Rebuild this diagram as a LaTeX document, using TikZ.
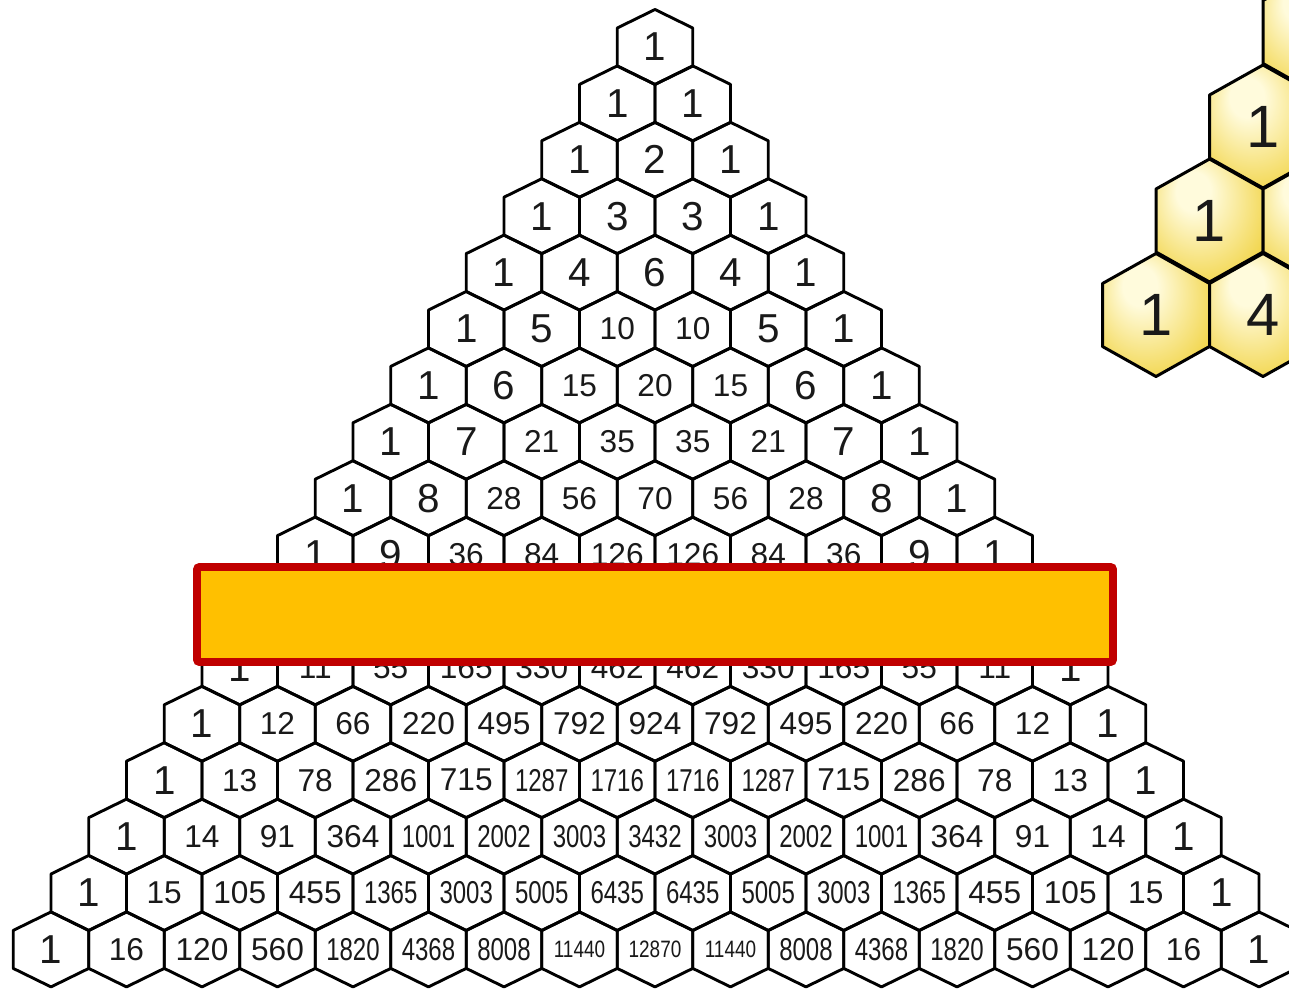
\documentclass[tikz,border=0pt]{standalone}
\usepackage{fontspec}
\setmainfont{Liberation Sans}
\usepackage{graphicx}
\usepackage{xcolor}
\definecolor{numink}{RGB}{25,25,25}
\definecolor{honeylo}{RGB}{240,208,55}
\definecolor{honeyhi}{RGB}{255,251,220}
\definecolor{barfill}{RGB}{255,192,0}
\definecolor{barline}{RGB}{192,0,0}
\pgfdeclareradialshading{honey}{\pgfpoint{-9bp}{14bp}}{color(0bp)=(honeyhi); color(8bp)=(honeyhi); color(36bp)=(honeylo); color(50bp)=(honeylo)}

% number size depends on how many digits it has
\newcommand\pascalnum[1]{%
  \ifnum#1<10 {\fontsize{23}{23}\selectfont#1}%
  \else\ifnum#1<1000 {\fontsize{18}{18}\selectfont#1}%
  \else\ifnum#1<10000 \scalebox{0.76}[1]{\fontsize{18}{18}\selectfont#1}%
  \else \scalebox{0.8}[1]{\fontsize{13.5}{13.5}\selectfont#1}\fi\fi\fi}

\tikzset{
  cellline/.style={draw=black, line width=1.65pt, line join=round},
  cellnum/.style={text=numink, inner sep=0pt},
  honeyline/.style={cellline, line width=1.7pt, shade, shading=honey},
  bigone/.style={cellnum, font=\fontsize{34}{34}\selectfont},
  coverbar/.style={draw=barline, fill=barfill, line width=4.5pt, rounded corners=1.5pt},
  pics/cell/.style={code={
    \draw[cellline] (0,37.5) -- (37.75,19) -- (37.75,-19) -- (0,-37.5) -- (-37.75,-19) -- (-37.75,19) -- cycle;
    \node[cellnum] (-n) {\pascalnum{#1}};
  }},
  pics/honeycell/.style={code={
    \draw[honeyline] (0,61.5) -- (53.5,31.5) -- (53.5,-31.5) -- (0,-61.5) -- (-53.5,-31.5) -- (-53.5,31.5) -- cycle;
    \node[bigone] (-n) {#1};
  }}
}

\begin{document}
\begin{tikzpicture}[x=0.02cm, y=-0.02cm]
  \useasboundingbox (0,0) rectangle (1289,991);
  \clip (0,0) rectangle (1289,991);

  % Pascal's triangle, rows 0 to 16
  \foreach \row [count=\r from 0] in {
    {1},
    {1,1},
    {1,2,1},
    {1,3,3,1},
    {1,4,6,4,1},
    {1,5,10,10,5,1},
    {1,6,15,20,15,6,1},
    {1,7,21,35,35,21,7,1},
    {1,8,28,56,70,56,28,8,1},
    {1,9,36,84,126,126,84,36,9,1},
    {1,10,45,120,210,252,210,120,45,10,1},
    {1,11,55,165,330,462,462,330,165,55,11,1},
    {1,12,66,220,495,792,924,792,495,220,66,12,1},
    {1,13,78,286,715,1287,1716,1716,1287,715,286,78,13,1},
    {1,14,91,364,1001,2002,3003,3432,3003,2002,1001,364,91,14,1},
    {1,15,105,455,1365,3003,5005,6435,6435,5005,3003,1365,455,105,15,1},
    {1,16,120,560,1820,4368,8008,11440,12870,11440,8008,4368,1820,560,120,16,1}}{
    \foreach \v [count=\k from 0] in \row {
      \pgfmathsetmacro\cx{655+75.5*(\k-\r/2)}
      \pgfmathsetmacro\cy{47+56.4*\r}
      \pic (p\r-\k) at (\cx,\cy) {cell=\v};
    }
  }

  % enlarged corner, top right
  \pic (h1-0) at (1316.5,32) {honeycell={}};
  \pic (h2-0) at (1263,126.5) {honeycell=1};
  \pic (h3-0) at (1209.5,220.5) {honeycell=1};
  \pic (h3-1) at (1316.5,220.5) {honeycell={}};
  \pic (h4-0) at (1156,315) {honeycell=1};
  \pic (h4-1) at (1263,315) {honeycell=4};

  % bar over rows 9 to 11
  \draw[coverbar] (197,567) rectangle (1113,662);
\end{tikzpicture}
\end{document}
